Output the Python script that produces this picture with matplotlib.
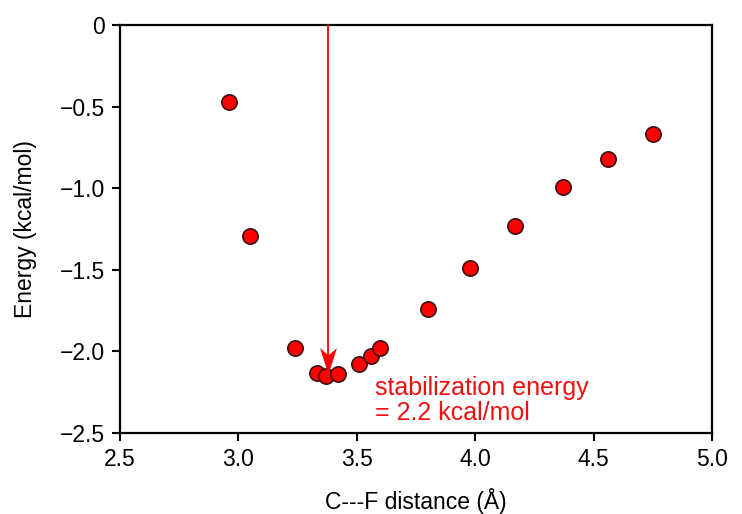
import matplotlib.pyplot as plt
from matplotlib.path import Path

plt.rcParams['font.family'] = ['Liberation Sans', 'DejaVu Sans']

# C---F distance (Å) and energy (kcal/mol)
distancia = [2.96, 3.05, 3.24, 3.33, 3.37, 3.42, 3.51, 3.56, 3.60,
             3.80, 3.98, 4.17, 4.37, 4.56, 4.75]
energia = [-0.47, -1.29, -1.98, -2.13, -2.15, -2.14, -2.08, -2.03, -1.98,
           -1.74, -1.49, -1.23, -0.99, -0.82, -0.67]

x_ticks = [2.5, 3.0, 3.5, 4.0, 4.5, 5.0]
y_ticks = [0, -0.5, -1.0, -1.5, -2.0, -2.5]
y_tick_labels = ['0', '\u22120.5', '\u22121.0', '\u22121.5', '\u22122.0', '\u22122.5']

x_seta = 3.38
y_seta_fim = -2.14

# ponta da seta (estilo "stealth"), ponta na origem
ponta = Path([(0, 0), (-0.32, 1), (0, 0.72), (0.32, 1), (0, 0)],
             [Path.MOVETO, Path.LINETO, Path.LINETO, Path.LINETO, Path.CLOSEPOLY])

fig = plt.figure(figsize=(7.42, 5.14), dpi=100)
ax = fig.add_axes([0.1617, 0.1576, 0.7979, 0.7938])

ax.plot(distancia, energia, 'o', color='#ff0000', markersize=11,
        markeredgecolor='#3a1010', markeredgewidth=1.2, zorder=3)

# seta vertical
ax.plot([x_seta, x_seta], [0, y_seta_fim + 0.05], color='#ff0000', lw=1.3, zorder=4)
ax.plot([x_seta], [y_seta_fim], marker=ponta, markersize=38, color='#ff0000',
        markeredgewidth=0, zorder=5)

ax.text(3.575, -2.15, 'stabilization energy\n= 2.2 kcal/mol', color='#ee1111',
        fontsize=18, va='top', ha='left', linespacing=1.05)

ax.set_xlim(2.5, 5.0)
ax.set_ylim(-2.5, 0)
ax.set_xticks(x_ticks)
ax.set_xticklabels([f'{v:.1f}' for v in x_ticks])
ax.set_yticks(y_ticks)
ax.set_yticklabels(y_tick_labels)
ax.tick_params(direction='out', length=6, width=1.5, labelsize=16.5, pad=5,
               top=False, right=False)
for s in ax.spines.values():
    s.set_linewidth(1.6)

ax.set_xlabel('C---F distance (Å)', fontsize=16.5, labelpad=12)
ax.set_ylabel('Energy (kcal/mol)', fontsize=16.5, labelpad=16)

fig.savefig('out.png', dpi=100)
